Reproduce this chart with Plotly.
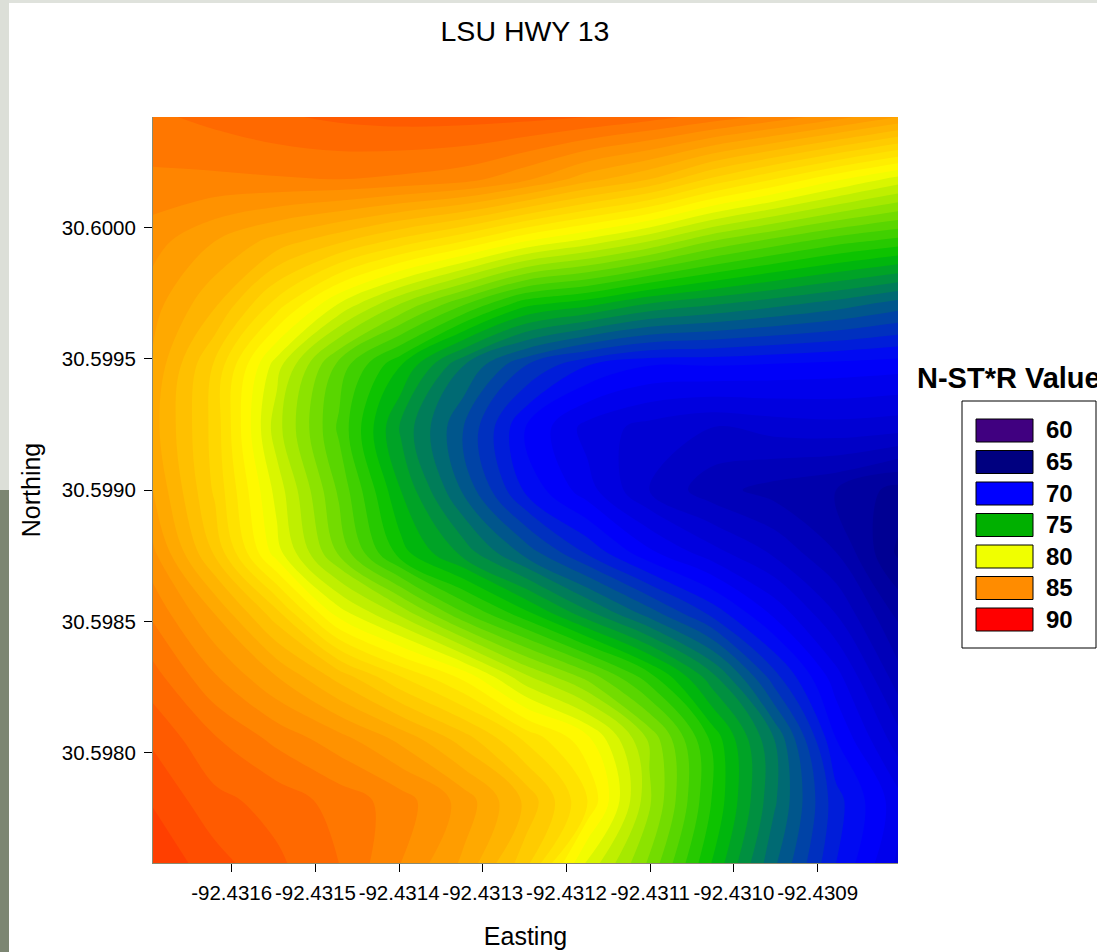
import plotly.graph_objects as go

title_text = "LSU HWY 13"
legend_title = "N-ST*R Value"
legend_values = [60, 65, 70, 75, 80, 85, 90]
legend_colors = ["#400080", "#000080", "#0000ff", "#00b000", "#f0ff00", "#ff8c00", "#ff0000"]
field_colors = ["#400080", "#000080", "#0000ff", "#00c000", "#ffff00", "#ff8c00", "#ff0000"]

x_ticks = [-92.4316, -92.4315, -92.4314, -92.4313, -92.4312, -92.4311, -92.4310, -92.4309]
x_labels = ["-92.4316", "-92.4315", "-92.4314", "-92.4313", "-92.4312", "-92.4311", "-92.4310", "-92.4309"]
y_ticks = [30.6000, 30.5995, 30.5990, 30.5985, 30.5980]
y_labels = ["30.6000", "30.5995", "30.5990", "30.5985", "30.5980"]

easting = [-92.431694, -92.431620, -92.431546, -92.431472, -92.431398, -92.431323, -92.431249,
           -92.431175, -92.431101, -92.431027, -92.430952, -92.430878, -92.430804]
northing = [30.600420, 30.600183, 30.599947, 30.599710, 30.599473, 30.599237, 30.599000,
            30.598763, 30.598527, 30.598290, 30.598053, 30.597817, 30.597580]
value_grid = [
    [85.9, 86.15, 86.42, 86.6, 86.7, 86.7, 86.65, 86.5, 86.2, 85.8, 85.3, 84.7, 84.0],
    [85.4, 85.4, 85.45, 85.5, 85.4, 85.2, 84.6, 83.7, 83.0, 81.9, 81.0, 80.1, 79.3],
    [84.7, 84.0, 83.3, 82.6, 81.8, 81.0, 80.0, 79.3, 78.5, 77.5, 76.8, 76.2, 75.8],
    [84.2, 83.1, 81.3, 79.5, 78.0, 76.6, 75.2, 74.7, 74.0, 73.6, 73.2, 72.8, 72.3],
    [83.9, 81.9, 79.2, 76.8, 75.0, 73.0, 71.5, 70.5, 70.0, 70.0, 69.9, 69.8, 69.7],
    [83.7, 81.8, 78.7, 76.4, 73.9, 72.0, 70.0, 68.8, 68.3, 68.0, 68.2, 68.3, 68.2],
    [84.0, 81.9, 79.3, 76.9, 74.5, 72.4, 70.4, 69.2, 68.0, 67.2, 66.8, 66.5, 65.8],
    [84.6, 82.4, 79.7, 77.4, 75.2, 73.8, 72.3, 70.9, 69.6, 68.7, 67.9, 67.0, 65.4],
    [85.4, 84.0, 82.2, 79.8, 78.4, 76.6, 75.2, 73.7, 72.3, 70.9, 69.4, 68.0, 66.4],
    [86.2, 85.05, 84.0, 82.8, 81.5, 80.35, 78.6, 77.3, 75.7, 73.7, 71.2, 69.2, 67.2],
    [86.9, 86.05, 85.35, 84.7, 83.85, 82.75, 81.4, 80.15, 77.9, 75.4, 73.0, 70.0, 68.2],
    [87.45, 86.65, 86.3, 85.8, 85.25, 84.3, 82.9, 81.0, 78.1, 75.5, 73.1, 70.7, 69.2],
    [87.9, 87.2, 86.6, 86.0, 85.0, 83.9, 82.2, 79.4, 77.4, 75.0, 72.6, 70.5, 68.9],
]

W, H = 1097, 952
L, R, T, B = 153, 199, 117, 89
PW, PH = W - L - R, H - T - B
def px(v): return (v - L) / PW
def py(v): return 1 - (v - T) / PH

colorscale = [[(v - 60) / 30, c] for v, c in zip(legend_values, field_colors)]

fig = go.Figure(go.Contour(
    x=easting, y=northing, z=value_grid,
    colorscale=colorscale, zmin=60, zmax=90, autocontour=False,
    contours=dict(start=60, end=90, size=0.5, coloring="fill", showlines=False),
    line=dict(width=0, smoothing=1.0), showscale=False, hoverinfo="skip",
))

shapes = [
    dict(type="rect", xref="paper", yref="paper", x0=px(0), x1=px(W), y0=py(0), y1=py(3),
         fillcolor="#dfe2dc", line_width=0, layer="below"),
    dict(type="rect", xref="paper", yref="paper", x0=px(0), x1=px(9), y0=py(0), y1=py(490),
         fillcolor="#dcdfd8", line_width=0, layer="below"),
    dict(type="rect", xref="paper", yref="paper", x0=px(0), x1=px(9), y0=py(490), y1=py(H),
         fillcolor="#7c8672", line_width=0, layer="below"),
    dict(type="rect", xref="paper", yref="paper", x0=px(962), x1=px(1096), y0=py(401), y1=py(648),
         fillcolor="white", line=dict(color="black", width=1)),
]
annotations = [
    dict(xref="paper", yref="paper", x=px(915), y=py(378), text=legend_title, showarrow=False,
         xanchor="left", yanchor="middle",
         font=dict(family="Liberation Sans", size=29, color="black", weight="bold")),
]
for i, (v, c) in enumerate(zip(legend_values, legend_colors)):
    top = 419 + i * 31.5
    shapes.append(dict(type="rect", xref="paper", yref="paper", x0=px(976), x1=px(1033),
                       y0=py(top), y1=py(top + 23), fillcolor=c, line=dict(color="black", width=1)))
    annotations.append(dict(xref="paper", yref="paper", x=px(1044), y=py(top + 11), text=str(v),
                            showarrow=False, xanchor="left", yanchor="middle",
                            font=dict(family="Liberation Sans", size=24, color="black", weight="bold")))

axis_font = dict(family="Liberation Sans", size=20.5, color="black")
fig.update_layout(
    width=W, height=H, autosize=False,
    margin=dict(l=L, r=R, t=T, b=B, pad=0),
    paper_bgcolor="white", plot_bgcolor="white",
    font=dict(family="Liberation Sans", color="black"),
    title=dict(text=title_text, x=525 / W, xanchor="center", y=1 - 31 / H, yanchor="middle",
               font=dict(family="Liberation Sans", size=28.5, color="black")),
    shapes=shapes, annotations=annotations,
    xaxis=dict(range=[easting[0], easting[-1]], tickmode="array", tickvals=x_ticks, ticktext=x_labels,
               ticks="outside", ticklen=8, tickcolor="black", tickfont=axis_font, showgrid=False,
               zeroline=False, showline=True, linecolor="#8a8a70", linewidth=1, automargin=False,
               ticklabelstandoff=3,
               title=dict(text="Easting", font=dict(family="Liberation Sans", size=25, color="black"), standoff=24)),
    yaxis=dict(range=[northing[-1], northing[0]], tickmode="array", tickvals=y_ticks, ticktext=y_labels,
               ticks="outside", ticklen=8, tickcolor="black", tickfont=axis_font, showgrid=False,
               zeroline=False, showline=True, linecolor="#8a8a70", linewidth=1, automargin=False,
               ticklabelstandoff=4,
               title=dict(text="Northing", font=dict(family="Liberation Sans", size=25, color="black"), standoff=14)),
)

fig.write_html("out.html", post_script="document.body.style.margin='0';document.body.style.background='white';",
               config=dict(displayModeBar=False))
